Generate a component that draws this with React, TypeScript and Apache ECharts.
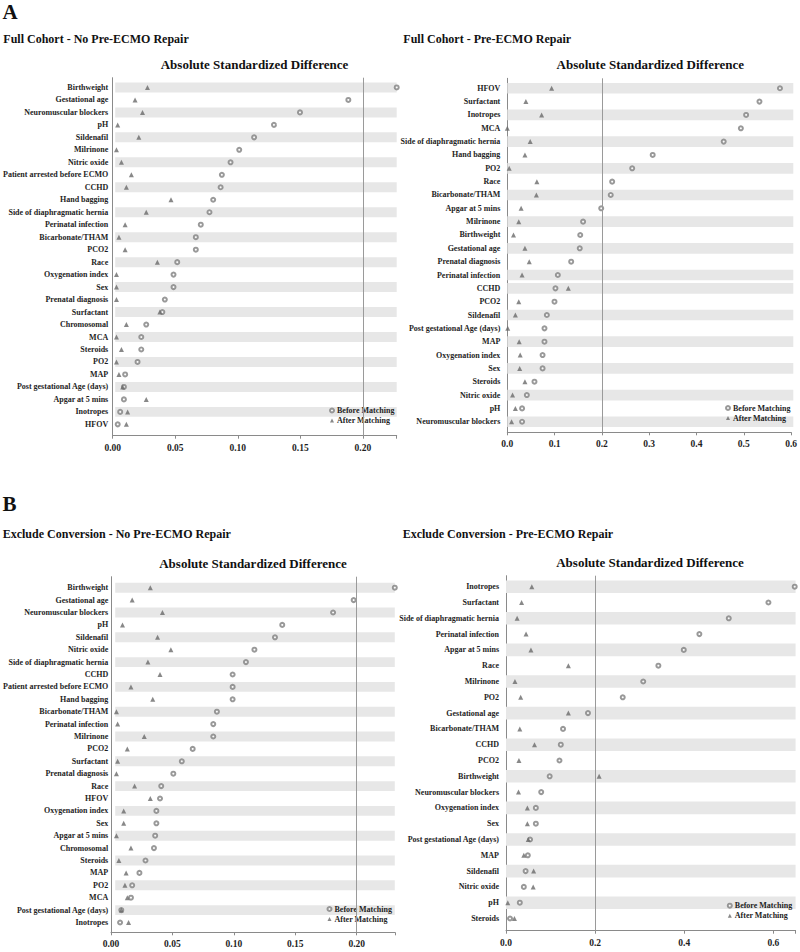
import React, { useEffect, useRef } from "react";
import * as echarts from "echarts";

const FONT = '"Liberation Serif", "Times New Roman", serif';

// ---- Panel A (left): Full Cohort - No Pre-ECMO Repair ----
const aLeftNames = [
  "Birthweight", "Gestational age", "Neuromuscular blockers", "pH", "Sildenafil", "Milrinone",
  "Nitric oxide", "Patient arrested before ECMO", "CCHD", "Hand bagging",
  "Side of diaphragmatic hernia", "Perinatal infection", "Bicarbonate/THAM", "PCO2", "Race",
  "Oxygenation index", "Sex", "Prenatal diagnosis", "Surfactant", "Chromosomal", "MCA",
  "Steroids", "PO2", "MAP", "Post gestational Age (days)", "Apgar at 5 mins", "Inotropes", "HFOV",
];
const aLeftBefore = [
  0.227, 0.188, 0.149, 0.128, 0.112, 0.1, 0.093, 0.086, 0.085, 0.079, 0.076, 0.069, 0.065, 0.065,
  0.05, 0.047, 0.047, 0.04, 0.038, 0.025, 0.021, 0.021, 0.018, 0.008, 0.007, 0.007, 0.004, 0.002,
];
const aLeftAfter = [
  0.026, 0.016, 0.022, 0.002, 0.019, 0.001, 0.005, 0.013, 0.009, 0.045, 0.025, 0.008, 0.003, 0.008,
  0.034, 0.001, 0.001, 0.001, 0.036, 0.009, 0.001, 0.005, 0.001, 0.003, 0.006, 0.025, 0.01, 0.009,
];

// ---- Panel A (right): Full Cohort - Pre-ECMO Repair ----
const aRightNames = [
  "HFOV", "Surfactant", "Inotropes", "MCA", "Side of diaphragmatic hernia", "Hand bagging", "PO2",
  "Race", "Bicarbonate/THAM", "Apgar at 5 mins", "Milrinone", "Birthweight", "Gestational age",
  "Prenatal diagnosis", "Perinatal infection", "CCHD", "PCO2", "Sildenafil",
  "Post gestational Age (days)", "MAP", "Oxygenation index", "Sex", "Steroids", "Nitric oxide", "pH",
  "Neuromuscular blockers",
];
const aRightBefore = [
  0.572, 0.529, 0.501, 0.49, 0.454, 0.305, 0.262, 0.22, 0.217, 0.197, 0.159, 0.153, 0.152, 0.134,
  0.106, 0.101, 0.099, 0.083, 0.078, 0.078, 0.074, 0.074, 0.057, 0.041, 0.031, 0.031,
];
const aRightAfter = [
  0.093, 0.039, 0.072, 0.0, 0.048, 0.037, 0.004, 0.062, 0.061, 0.029, 0.024, 0.013, 0.037, 0.046,
  0.031, 0.128, 0.024, 0.017, 0.001, 0.025, 0.027, 0.026, 0.037, 0.011, 0.017, 0.009,
];

// ---- Panel B (left): Exclude Conversion - No Pre-ECMO Repair ----
const bLeftNames = [
  "Birthweight", "Gestational age", "Neuromuscular blockers", "pH", "Sildenafil", "Nitric oxide",
  "Side of diaphragmatic hernia", "CCHD", "Patient arrested before ECMO", "Hand bagging",
  "Bicarbonate/THAM", "Perinatal infection", "Milrinone", "PCO2", "Surfactant", "Prenatal diagnosis",
  "Race", "HFOV", "Oxygenation index", "Sex", "Apgar at 5 mins", "Chromosomal", "Steroids", "MAP",
  "PO2", "MCA", "Post gestational Age (days)", "Inotropes",
];
const bLeftBefore = [
  0.231, 0.197, 0.18, 0.138, 0.132, 0.115, 0.108, 0.097, 0.097, 0.097, 0.084, 0.081, 0.081, 0.064,
  0.055, 0.048, 0.038, 0.037, 0.034, 0.034, 0.033, 0.032, 0.025, 0.02, 0.014, 0.013, 0.005, 0.004,
];
const bLeftAfter = [
  0.029, 0.014, 0.039, 0.006, 0.035, 0.046, 0.027, 0.037, 0.013, 0.031, 0.001, 0.002, 0.024, 0.01,
  0.002, 0.001, 0.016, 0.029, 0.007, 0.007, 0.001, 0.013, 0.003, 0.009, 0.008, 0.01, 0.005, 0.011,
];

// ---- Panel B (right): Exclude Conversion - Pre-ECMO Repair ----
const bRightNames = [
  "Inotropes", "Surfactant", "Side of diaphragmatic hernia", "Perinatal infection", "Apgar at 5 mins",
  "Race", "Milrinone", "PO2", "Gestational age", "Bicarbonate/THAM", "CCHD", "PCO2", "Birthweight",
  "Neuromuscular blockers", "Oxygenation index", "Sex", "Post gestational Age (days)", "MAP",
  "Sildenafil", "Nitric oxide", "pH", "Steroids",
];
const bRightBefore = [
  0.648, 0.589, 0.5, 0.434, 0.399, 0.342, 0.308, 0.262, 0.184, 0.128, 0.123, 0.12, 0.098, 0.079,
  0.067, 0.067, 0.054, 0.049, 0.044, 0.04, 0.031, 0.009,
];
const bRightAfter = [
  0.058, 0.035, 0.025, 0.045, 0.056, 0.14, 0.02, 0.033, 0.14, 0.031, 0.064, 0.029, 0.209, 0.028,
  0.048, 0.048, 0.05, 0.04, 0.062, 0.061, 0.004, 0.019,
];

const refValue = 0.2;

type Panel = {
  names: string[];
  before: number[];
  after: number[];
  max: number;
  step: number;
  decimals: number;
  left: number;
  width: number;
  axisTop: number;
  axisHeight: number;
  catTop: number;
  catHeight: number;
  legendLeft: number;
  legendTop: number;
  shade: (i: number) => boolean;
};

const panels: Panel[] = [
  {
    names: aLeftNames, before: aLeftBefore, after: aLeftAfter, max: 0.227, step: 0.05, decimals: 2,
    left: 112.7, width: 284, axisTop: 77.7, axisHeight: 358, catTop: 81.2, catHeight: 349.4,
    legendLeft: 329, legendTop: 406, shade: (i) => i % 2 === 0,
  },
  {
    names: aRightNames, before: aRightBefore, after: aRightAfter, max: 0.6, step: 0.1, decimals: 1,
    left: 507.3, width: 286, axisTop: 78.3, axisHeight: 354, catTop: 81.6, catHeight: 346.8,
    legendLeft: 725, legendTop: 403.5, shade: (i) => (i < 15 ? i % 2 === 0 : i % 2 === 1),
  },
  {
    names: bLeftNames, before: bLeftBefore, after: bLeftAfter, max: 0.231, step: 0.05, decimals: 2,
    left: 111, width: 283.8, axisTop: 576.7, axisHeight: 355.6, catTop: 581.5, catHeight: 347.2,
    legendLeft: 326.5, legendTop: 904.5, shade: (i) => i % 2 === 0,
  },
  {
    names: bRightNames, before: bRightBefore, after: bRightAfter, max: 0.65, step: 0.2, decimals: 1,
    left: 506, width: 289.6, axisTop: 575.7, axisHeight: 355, catTop: 578.8, catHeight: 347.6,
    legendLeft: 726.8, legendTop: 901.2, shade: (i) => i % 2 === 0,
  },
];

const titles = [
  { text: "A", x: 2.5, y: 11.7, size: 21, align: "left" },
  { text: "Full Cohort - No Pre-ECMO Repair", x: 3.3, y: 39, size: 12, align: "left" },
  { text: "Absolute Standardized Difference", x: 254.5, y: 64, size: 13, align: "center" },
  { text: "Full Cohort - Pre-ECMO Repair", x: 403.3, y: 39, size: 12, align: "left" },
  { text: "Absolute Standardized Difference", x: 650.3, y: 64, size: 13, align: "center" },
  { text: "B", x: 2.5, y: 504, size: 21, align: "left" },
  { text: "Exclude Conversion - No Pre-ECMO Repair", x: 2.7, y: 534, size: 12, align: "left" },
  { text: "Absolute Standardized Difference", x: 253, y: 563.5, size: 13, align: "center" },
  { text: "Exclude Conversion - Pre-ECMO Repair", x: 402.7, y: 534, size: 12, align: "left" },
  { text: "Absolute Standardized Difference", x: 650, y: 562.5, size: 13, align: "center" },
];

const AXIS_COLOR = "#8a8a8a";
const TEXT_COLOR = "#1e1e1e";
const CIRCLE_COLOR = "#808080";
const TRI_COLOR = "#6a6a6a";

function buildOption() {
  const grid: any[] = [];
  const xAxis: any[] = [];
  const yAxis: any[] = [];
  const series: any[] = [];
  const legend: any[] = [];

  panels.forEach((p, k) => {
    const ag = 2 * k;
    const cg = 2 * k + 1;
    grid.push({ left: p.left, width: p.width, top: p.axisTop, height: p.axisHeight, containLabel: false });
    grid.push({ left: p.left, width: p.width, top: p.catTop, height: p.catHeight, containLabel: false });

    xAxis.push({
      gridIndex: ag,
      type: "value",
      min: 0,
      max: p.max,
      interval: p.step,
      axisLine: { show: true, lineStyle: { color: AXIS_COLOR, width: 1 } },
      axisTick: { show: true, length: 3, lineStyle: { color: AXIS_COLOR } },
      splitLine: { show: false },
      axisLabel: {
        fontFamily: FONT,
        fontSize: 9.5,
        fontWeight: "bold",
        color: TEXT_COLOR,
        margin: 7,
        formatter: (v: number) => {
          const r = v / p.step;
          return Math.abs(r - Math.round(r)) < 1e-6 ? v.toFixed(p.decimals) : "";
        },
      },
    });
    xAxis.push({ gridIndex: cg, type: "value", min: 0, max: p.max, show: false });

    yAxis.push({
      gridIndex: ag,
      type: "value",
      min: 0,
      max: 1,
      axisLine: { show: true, lineStyle: { color: AXIS_COLOR, width: 1 } },
      axisTick: { show: false },
      axisLabel: { show: false },
      splitLine: { show: false },
    });
    yAxis.push({
      gridIndex: cg,
      type: "category",
      data: p.names,
      inverse: true,
      axisLine: { show: false },
      axisTick: { show: false },
      splitLine: { show: false },
      axisLabel: {
        fontFamily: FONT,
        fontSize: 8,
        fontWeight: "bold",
        color: TEXT_COLOR,
        margin: 7,
        interval: 0,
      },
    });

    series.push({
      type: "bar",
      name: "band" + k,
      xAxisIndex: cg,
      yAxisIndex: cg,
      data: p.names.map((_, i) => (p.shade(i) ? p.max : "-")),
      barWidth: "80%",
      itemStyle: { color: "#e7e7e7" },
      silent: true,
      z: 1,
    });
    series.push({
      type: "scatter",
      name: "ref" + k,
      xAxisIndex: ag,
      yAxisIndex: ag,
      data: [],
      z: 2,
      markLine: {
        silent: true,
        symbol: ["none", "none"],
        label: { show: false },
        lineStyle: { color: "#9a9a9a", width: 1, type: "solid" },
        data: [{ xAxis: refValue }],
      },
    });
    series.push({
      type: "scatter",
      name: "Before Matching",
      xAxisIndex: cg,
      yAxisIndex: cg,
      data: p.names.map((n, i) => [p.before[i], n]),
      symbol: "emptyCircle",
      symbolSize: 4,
      itemStyle: { color: CIRCLE_COLOR, borderWidth: 0.8 },
      z: 3,
    });
    series.push({
      type: "scatter",
      name: "After Matching",
      xAxisIndex: cg,
      yAxisIndex: cg,
      data: p.names.map((n, i) => [p.after[i], n]),
      symbol: "triangle",
      symbolSize: 5,
      itemStyle: { color: TRI_COLOR },
      z: 4,
    });

    legend.push({
      left: p.legendLeft,
      top: p.legendTop,
      orient: "vertical",
      padding: 0,
      itemWidth: 4,
      itemHeight: 4,
      itemGap: 1,
      selectedMode: false,
      data: [
        {
          name: "Before Matching",
          icon: "emptyCircle",
          itemStyle: { color: CIRCLE_COLOR, borderColor: CIRCLE_COLOR, borderWidth: 0.8 },
        },
        { name: "After Matching", icon: "triangle", itemStyle: { color: TRI_COLOR } },
      ],
      textStyle: {
        fontFamily: FONT,
        fontSize: 8,
        fontWeight: "bold",
        color: TEXT_COLOR,
        lineHeight: 9,
        padding: [0, 0, 0, -2],
      },
    });
  });

  const graphic = titles.map((t) => ({
    type: "text",
    x: t.x,
    y: t.y,
    silent: true,
    style: {
      text: t.text,
      fontFamily: FONT,
      fontSize: t.size,
      fontWeight: "bold",
      fill: "#111111",
      textAlign: t.align,
      textVerticalAlign: "middle",
    },
  }));

  return {
    animation: false,
    backgroundColor: "#ffffff",
    grid,
    xAxis,
    yAxis,
    series,
    legend,
    graphic,
  };
}

export default function App() {
  const ref = useRef<HTMLDivElement>(null);
  useEffect(() => {
    if (!ref.current) return;
    const chart = echarts.init(ref.current, undefined, { renderer: "svg" });
    chart.setOption(buildOption() as any);
    return () => chart.dispose();
  }, []);
  return (
    <div
      ref={ref}
      style={{ position: "absolute", left: 0, top: 0, width: 800, height: 952, background: "#fff" }}
    />
  );
}
